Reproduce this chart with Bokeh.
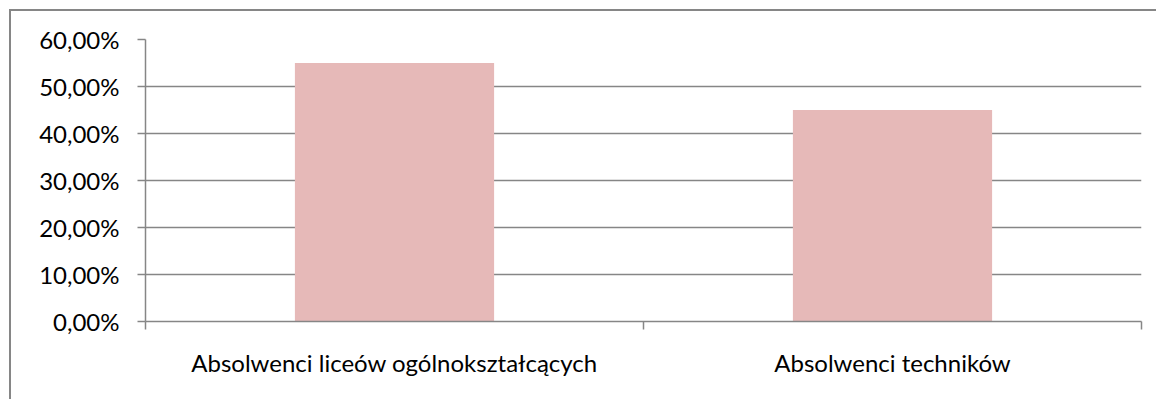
from bokeh.plotting import figure
from bokeh.models import Range1d, FixedTicker, ColumnDataSource
from bokeh.embed import file_html
from bokeh.resources import INLINE

categories = ["Absolwenci liceów ogólnokształcących", "Absolwenci techników"]
shares = [0.55, 0.45]
y_ticks = [0.0, 0.1, 0.2, 0.3, 0.4, 0.5, 0.6]
y_tick_labels = ["0,00%", "10,00%", "20,00%", "30,00%", "40,00%", "50,00%", "60,00%"]

GRID = "#868686"
FONT = "Lato"

xs = [i + 0.5 for i in range(len(categories))]
src = ColumnDataSource(dict(x=xs, top=shares, cat=categories))

p = figure(width=1147, height=390, output_backend="svg", toolbar_location=None,
           x_range=Range1d(0, len(categories)), y_range=Range1d(0, 0.6),
           min_border_left=134, min_border_right=17, min_border_top=28, min_border_bottom=80)
p.styles = {"border-top": "2px solid " + GRID, "border-left": "2px solid " + GRID,
            "margin-left": "9px", "margin-top": "9px"}
p.outline_line_color = None
p.background_fill_color = "white"
p.border_fill_color = "white"

p.vbar(x="x", top="top", bottom=0, width=0.4, source=src,
       fill_color="#E6B9B8", line_color=None)

# y axis
p.yaxis.ticker = FixedTicker(ticks=y_ticks)
p.yaxis.major_label_overrides = {t: l for t, l in zip(y_ticks, y_tick_labels)}
p.yaxis.axis_line_color = GRID
p.yaxis.axis_line_width = 1.5
p.yaxis.major_tick_line_color = GRID
p.yaxis.major_tick_line_width = 1.5
p.yaxis.major_tick_out = 8
p.yaxis.major_tick_in = 0
p.yaxis.minor_tick_line_color = None
p.yaxis.major_label_standoff = 18
p.yaxis.major_label_text_font = FONT
p.yaxis.major_label_text_font_size = "24px"
p.yaxis.major_label_text_color = "black"

# x axis
p.xaxis.ticker = FixedTicker(ticks=xs, minor_ticks=[float(i) for i in range(len(categories) + 1)])
p.xaxis.major_label_overrides = {x: c for x, c in zip(xs, categories)}
p.xaxis.axis_line_color = GRID
p.xaxis.axis_line_width = 1.5
p.xaxis.major_tick_line_color = None
p.xaxis.major_tick_out = 0
p.xaxis.major_tick_in = 0
p.xaxis.minor_tick_line_color = GRID
p.xaxis.minor_tick_line_width = 1.5
p.xaxis.minor_tick_out = 8
p.xaxis.minor_tick_in = 0
p.xaxis.major_label_standoff = 18
p.xaxis.major_label_text_font = FONT
p.xaxis.major_label_text_font_size = "24px"
p.xaxis.major_label_text_color = "black"

p.xgrid.grid_line_color = None
p.ygrid.ticker = FixedTicker(ticks=y_ticks)
p.ygrid.grid_line_color = GRID
p.ygrid.grid_line_width = 1.5

open("out.html", "w").write(file_html(p, INLINE))
